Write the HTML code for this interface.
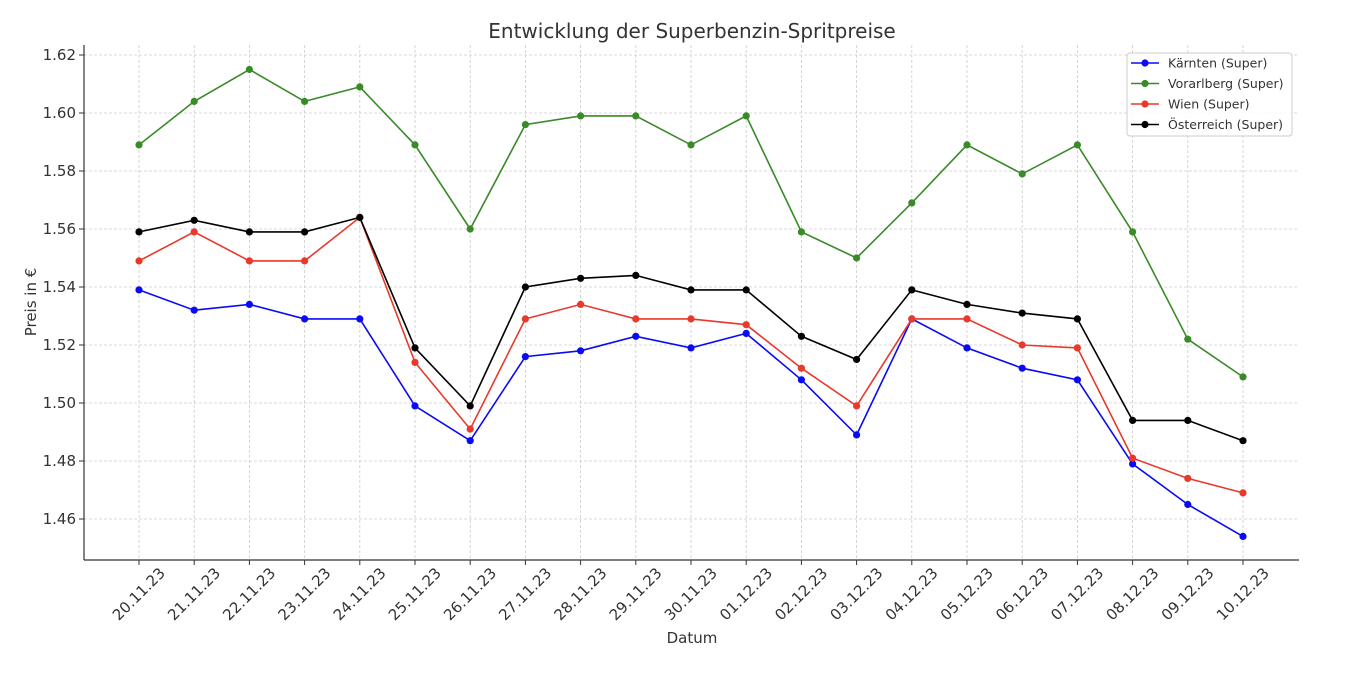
<!DOCTYPE html>
<html><head><meta charset="utf-8"><style>
body{margin:0;background:#fff;}
svg text{font-family:"DejaVu Sans","Liberation Sans",sans-serif;fill:#333;}
</style></head><body>
<svg id="c" width="1366" height="670" xmlns="http://www.w3.org/2000/svg">
<text x="692" y="38" font-size="20" text-anchor="middle">Entwicklung der Superbenzin-Spritpreise</text>
<text x="692" y="643" font-size="15" text-anchor="middle">Datum</text>
<text transform="translate(36,302) rotate(-90)" font-size="15" text-anchor="middle">Preis in €</text>
<g id="g"></g>
<line x1="84" y1="45" x2="84" y2="560" stroke="#333" stroke-width="1.2"/>
<line x1="84" y1="560" x2="1299" y2="560" stroke="#333" stroke-width="1.2"/>
<g id="legend">
<rect x="1127" y="53" width="165" height="83" fill="#fff" fill-opacity="0.85" stroke="#ccc" rx="3"/>
</g>
</svg>
<script>
const ns="http://www.w3.org/2000/svg",g=document.getElementById('g'),L=document.getElementById('legend');
function el(t,a,p){const e=document.createElementNS(ns,t);for(const k in a)e.setAttribute(k,a[k]);(p||g).appendChild(e);return e;}
const X=i=>139+i*55.2,Y=v=>519-(v-1.46)*2900;
const dates=["20.11.23","21.11.23","22.11.23","23.11.23","24.11.23","25.11.23","26.11.23","27.11.23","28.11.23","29.11.23","30.11.23","01.12.23","02.12.23","03.12.23","04.12.23","05.12.23","06.12.23","07.12.23","08.12.23","09.12.23","10.12.23"];
for(let k=0;k<9;k++){const v=1.46+k*0.02,y=Y(v);
el('line',{x1:84,x2:1299,y1:y,y2:y,stroke:'#ccc','stroke-dasharray':'3,2','stroke-width':0.8});
el('line',{x1:79,x2:84,y1:y,y2:y,stroke:'#333'});
const t=el('text',{x:76,y:y+5,'font-size':15,'text-anchor':'end'});t.textContent=v.toFixed(2);}
dates.forEach((d,i)=>{const x=X(i);
el('line',{x1:x,x2:x,y1:45,y2:560,stroke:'#ccc','stroke-dasharray':'3,2','stroke-width':0.8});
el('line',{x1:x,x2:x,y1:560,y2:565,stroke:'#333'});
const t=el('text',{transform:`translate(${x+27},${574}) rotate(-45)`,'font-size':15,'text-anchor':'end'});t.textContent=d;});
const S=[
["Kärnten (Super)","#0a0af5",[1.539,1.532,1.534,1.529,1.529,1.499,1.487,1.516,1.518,1.523,1.519,1.524,1.508,1.489,1.529,1.519,1.512,1.508,1.479,1.465,1.454]],
["Vorarlberg (Super)","#3a8a2a",[1.589,1.604,1.615,1.604,1.609,1.589,1.560,1.596,1.599,1.599,1.589,1.599,1.559,1.550,1.569,1.589,1.579,1.589,1.559,1.522,1.509]],
["Wien (Super)","#e8392a",[1.549,1.559,1.549,1.549,1.564,1.514,1.491,1.529,1.534,1.529,1.529,1.527,1.512,1.499,1.529,1.529,1.520,1.519,1.481,1.474,1.469]],
["Österreich (Super)","#000",[1.559,1.563,1.559,1.559,1.564,1.519,1.499,1.540,1.543,1.544,1.539,1.539,1.523,1.515,1.539,1.534,1.531,1.529,1.494,1.494,1.487]]];
S.forEach(([n,c,d],j)=>{
el('polyline',{points:d.map((v,i)=>X(i)+','+Y(v)).join(' '),fill:'none',stroke:c,'stroke-width':1.6});
d.forEach((v,i)=>el('circle',{cx:X(i),cy:Y(v),r:3.6,fill:c}));
const ly=63+j*20.5;
el('line',{x1:1131,x2:1159,y1:ly,y2:ly,stroke:c,'stroke-width':1.6},L);
el('circle',{cx:1145,cy:ly,r:3.6,fill:c},L);
const t=el('text',{x:1168,y:ly+4.5,'font-size':12.5},L);t.textContent=n;});
</script>
</body></html>
